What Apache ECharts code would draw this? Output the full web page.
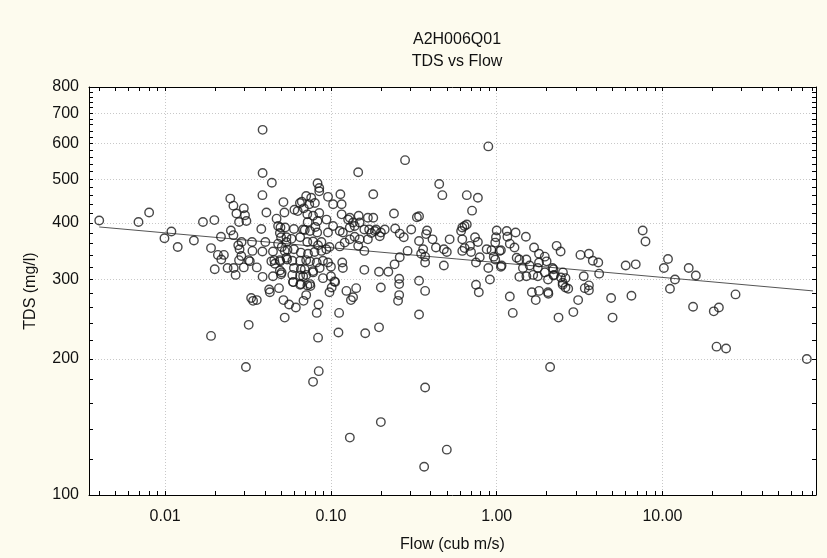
<!DOCTYPE html>
<html><head><meta charset="utf-8">
<script src="https://cdn.jsdelivr.net/npm/echarts@6/dist/echarts.min.js"></script>
<style>html,body{margin:0;padding:0;background:#fdfbee}#c{width:827px;height:558px}</style>
</head><body><div id="c"></div>
<script>
const flow = [
0.004,0.0069,0.008,0.0099,0.0109,0.0119,0.0149,0.0169,0.0198,0.0189,0.0208,0.0226,0.0218,0.0199,0.0189,0.0249,0.0258,0.0238,0.0266,0.0259,
0.0247,0.0258,0.0269,0.0279,0.0298,0.0303,0.0309,0.0276,0.0289,0.0281,0.0288,0.0279,0.0298,0.0324,0.0334,0.0336,0.0357,0.0386,0.0387,0.038,
0.0386,0.0408,0.0402,0.0424,0.0428,0.033,0.0339,0.0357,0.0319,0.0307,0.0447,0.0455,0.0437,0.047,0.048,0.0486,0.05,0.0505,0.0494,0.0517,
0.0524,0.0517,0.0526,0.0539,0.0547,0.0544,0.0559,0.0591,0.0614,0.0652,0.0683,0.0709,0.0752,0.0842,0.0821,0.0836,0.0844,0.078,0.0387,0.0387,
0.044,0.0602,0.0667,0.0709,0.0686,0.0496,0.0529,0.0598,0.0679,0.0724,
0.0217,0.0319,0.0459,0.0447,0.0492,0.05,0.0492,0.0492,0.0504,0.048,0.0526,0.0539,0.0539,0.0578,0.0652,0.0598,0.0658,0.0585,0.0652,0.0709,
0.0598,0.0658,0.0585,0.0652,0.0709,0.0592,0.0658,0.0721,
0.0695,0.0747,0.0806,0.0826,0.072,0.078,0.0836,0.0876,0.0727,0.0796,0.0876,0.0938,0.098,0.0747,0.082,0.0895,0.096,0.0695,0.078,0.0855,
0.1,0.117,0.118,0.068,0.078,0.0895,0.1,0.105,0.0747,0.106,0.101,0.098,0.112,0.111,0.124,0.142,0.132,0.136,0.159,0.161,
0.195,0.195,0.2,0.222,0.113,0.121,0.13,0.139,0.149,0.159,0.146,0.167,0.175,0.159,0.187,0.197,0.211,0.244,0.26,0.275,
0.305,0.29,0.34,0.375,0.37,0.37,0.26,0.242,0.258,0.258,0.258,0.254,0.34,0.37,0.34,
0.38,0.41,0.43,0.48,0.52,0.5,0.36,0.35,0.48,0.61,0.64,0.62,0.64,0.69,0.70,0.74,0.77,0.62,0.75,0.79,
0.87,0.89,0.93,0.98,0.96,1.04,1.06,0.98,1.0,0.99,1.15,1.16,1.2,1.3,1.28,1.5,1.32,1.37,1.44,1.37,
1.07,1.51,1.58,1.51,1.66,1.68,1.8,1.95,2.0,1.8,1.77,1.95,1.77,2.04,2.17,2.22,2.51,2.6,2.5,2.6,
2.3,2.43,0.75,0.78,0.91,1.2,1.25,1.63,1.8,1.72,2.04,2.05,2.36,
1.06,3.2,3.6,3.8,4.1,4.15,3.35,3.6,3.6,3.4,3.1,2.9,2.1,2.7,2.5,2.44,2.2,2.2,4.9,5.0,
6.0,6.9,6.5,7.6,7.9,10.2,10.8,11.9,11.1,14.4,15.9,15.3,20.4,21.9,27.6,21.2,24.2,74.3,
0.89,0.45,0.47,0.66,0.77,0.71,0.66,0.62,0.34,0.076,0.085,0.096,0.103,0.114,0.116,0.18,0.24,0.33,0.37,0.365,
0.063,0.065,0.074,0.08,0.072,0.078,0.085,0.083,0.094,0.096,0.103,0.113,0.118,0.127,0.13,0.139,0.147,0.149,0.167,0.18,
0.184,0.2,0.146,0.28,0.083,0.085,0.116,0.13,0.136,0.17,
0.13,0.2,0.5
];
const tds = [
405,402,422,370,383,354,366,402,406,352,340,340,332,316,225,385,376,318,307,318,
453,437,420,402,431,416,404,357,363,350,338,331,319,329,363,347,319,346,304,388,
461,422,363,285,281,273,269,270,238,192,346,331,329,409,394,287,308,354,329,445,
422,270,247,363,349,332,264,296,260,292,269,277,290,264,253,223,188,178,643,516,
491,428,446,459,431,391,391,388,387,402,
373,331,325,305,380,372,331,314,311,360,347,335,372,369,372,350,344,330,330,331,
318,316,307,306,307,296,293,291,
386,384,392,381,363,364,357,363,342,345,347,350,354,329,327,330,327,316,313,318,
320,327,318,305,311,302,305,297,293,296,288,281,253,229,283,287,270,274,315,228,
312,235,288,312,355,362,368,373,368,347,356,368,380,387,387,374,387,389,379,372,
387,347,365,378,337,327,336,324,301,293,277,269,298,283,251,
385,368,353,350,368,345,350,342,322,384,394,368,352,356,345,372,363,347,327,336,
350,318,348,362,337,347,320,332,385,372,384,373,360,381,353,373,335,332,318,304,
322,332,322,305,307,353,342,337,329,327,318,311,305,300,318,307,311,302,292,288,
356,346,292,281,300,275,253,281,283,270,281,279,247,
348,340,342,330,327,309,305,291,284,287,270,254,192,286,295,303,316,306,273,247,
322,324,276,385,364,318,333,300,286,318,306,261,255,260,278,213,211,200,
591,488,461,461,455,426,397,391,414,455,470,457,440,463,440,463,420,412,173,115.5,
425,443,440,443,418,415,421,404,407,381,394,384,381,407,391,394,415,401,411,411,
384,381,518,551,490,478,418,411,401,387,
134,145,126
];
const fitFlow = [0.004, 81];
const fitTds = [392, 283];
const xMin = 0.00347, xMax = 84.4;
const yMin = 100, yMax = 800;
const xMajor = [0.01, 0.1, 1, 10];
const xTicks = [0.004,0.005,0.006,0.007,0.008,0.009,0.01,0.02,0.03,0.04,0.05,0.06,0.07,0.08,0.09,0.1,0.2,0.3,0.4,0.5,0.6,0.7,0.8,0.9,1,2,3,4,5,6,7,8,9,10,20,30,40,50,60,70,80];
const yLabels = [100,200,300,400,500,600,700,800];
const yGrid = [200,300,400,500,600,700];
const yTicks = [100,120,140,160,180,200,220,240,260,280,300,320,340,360,380,400,420,440,460,480,500,520,540,560,580,600,620,640,660,680,700,720,740,760,780,800];

const FONT = '"Liberation Sans", Arial, sans-serif';
const TXT = '#111';
const points = flow.map((f, i) => [f, tds[i]]);
const fitLine = fitFlow.map((f, i) => [f, fitTds[i]]);

function xAx(extra) {
  return Object.assign({
    type: 'log', logBase: 10, min: xMin, max: xMax, gridIndex: 0,
    axisLine: { show: true, onZero: false, lineStyle: { color: '#000', width: 1 } },
    axisTick: { show: true, inside: true, length: 4, customValues: xTicks, lineStyle: { color: '#000' } },
    axisLabel: { show: false },
    splitLine: { show: false }
  }, extra);
}
function yAx(extra) {
  return Object.assign({
    type: 'log', logBase: 10, min: yMin, max: yMax, gridIndex: 0,
    axisLine: { show: true, onZero: false, lineStyle: { color: '#000', width: 1 } },
    axisTick: { show: true, inside: true, length: 4, customValues: yTicks, lineStyle: { color: '#000' } },
    axisLabel: { show: false },
    splitLine: { show: false }
  }, extra);
}

const chart = echarts.init(document.getElementById('c'), null, { renderer: 'canvas' });
chart.setOption({
  backgroundColor: '#fdfbee',
  animation: false,
  title: [
    { text: 'A2H006Q01', left: 452, top: 27, textAlign: 'center',
      textStyle: { fontFamily: FONT, fontSize: 16, fontWeight: 'normal', color: TXT } },
    { text: 'TDS vs Flow', left: 452, top: 49, textAlign: 'center',
      textStyle: { fontFamily: FONT, fontSize: 16, fontWeight: 'normal', color: TXT } }
  ],
  grid: { left: 89, right: 11, top: 87, bottom: 61, show: true, backgroundColor: '#ffffff', borderWidth: 0 },
  xAxis: [
    xAx({ position: 'bottom',
      axisLabel: { show: true, customValues: xMajor, formatter: v => Number(v).toFixed(2),
        color: TXT, fontSize: 16, fontFamily: FONT, margin: 14 },
      name: 'Flow (cub m/s)', nameLocation: 'middle', nameGap: 42,
      nameTextStyle: { fontFamily: FONT, fontSize: 16, color: TXT } }),
    xAx({ position: 'top' }),
    xAx({ position: 'bottom', axisLine: { show: false },
      axisTick: { show: false, customValues: xMajor },
      splitLine: { show: true, lineStyle: { color: '#c8c8c8', width: 1, type: [1, 2] } } })
  ],
  yAxis: [
    yAx({ position: 'left',
      axisLabel: { show: true, customValues: yLabels, formatter: v => String(Math.round(v)),
        color: TXT, fontSize: 16, fontFamily: FONT, margin: 10 },
      name: 'TDS (mg/l)', nameLocation: 'middle', nameGap: 50, nameRotate: 90,
      nameTextStyle: { fontFamily: FONT, fontSize: 16, color: TXT } }),
    yAx({ position: 'right' }),
    yAx({ position: 'left', axisLine: { show: false },
      axisTick: { show: false, customValues: yGrid },
      splitLine: { show: true, lineStyle: { color: '#c8c8c8', width: 1, type: [1, 2] } } })
  ],
  series: [
    { type: 'line', xAxisIndex: 0, yAxisIndex: 0, data: fitLine, symbol: 'none',
      lineStyle: { color: '#555', width: 1 }, silent: true, z: 2 },
    { type: 'scatter', xAxisIndex: 0, yAxisIndex: 0, data: points, symbol: 'circle', symbolSize: 8.5,
      itemStyle: { color: 'rgba(0,0,0,0)', borderColor: '#1a1a1a', borderWidth: 1.4 }, z: 3 }
  ]
});
</script></body></html>
